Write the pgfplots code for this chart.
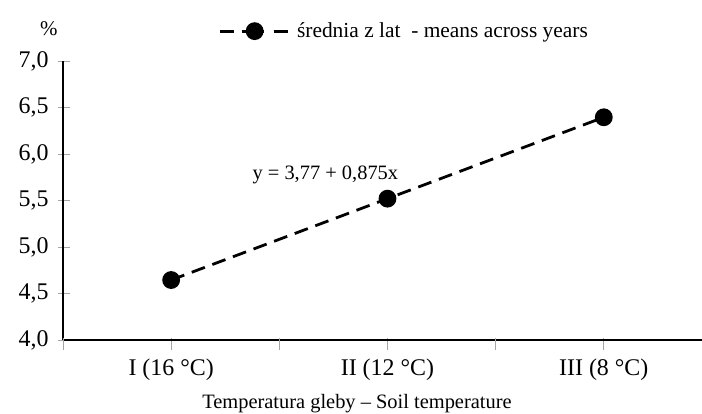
\documentclass[border=0pt]{standalone}
\usepackage{fontspec}
\setmainfont{Liberation Serif}
\usepackage{pgfplots}
\pgfplotsset{compat=1.18}
\begin{document}
\begin{tikzpicture}
\useasboundingbox (0,0) rectangle (702bp,414bp);
\begin{axis}[
  at={(63bp,74bp)}, anchor=south west,
  width=639bp, height=279bp, scale only axis,
  xmin=-0.5, xmax=2.454, ymin=4, ymax=7,
  axis x line=bottom, axis y line=left,
  axis line style={-, black, line width=1.1pt},
  ytick={4,4.5,5,5.5,6,6.5,7},
  yticklabels={{4,0},{4,5},{5,0},{5,5},{6,0},{6,5},{7,0}},
  xtick={0,1,2},
  xticklabels={I (16 °C), II (12 °C), III (8 °C)},
  extra x ticks={-0.5,0.5,1.5},
  extra x tick labels={},
  tick align=center,
  major tick length=12bp,
  x tick style={gray!70, line width=0.9pt, yshift=-4bp},
  y tick style={gray!70, line width=0.9pt, xshift=1bp},
  every tick label/.style={font=\fontsize{24}{28}\selectfont},
  xticklabel style={yshift=-9bp},
  yticklabel style={xshift=-5bp},
  xlabel={Temperatura gleby -- Soil temperature},
  xlabel style={font=\fontsize{20.5}{24}\selectfont, at={(axis description cs:0.46,0)}, anchor=center, yshift=-64bp},
  ylabel={\%},
  ylabel style={font=\fontsize{21}{24}\selectfont, rotate=-90, at={(axis description cs:-0.022,1.115)}, anchor=center},
  legend style={draw=none, fill=none, font=\fontsize{21.5}{24}\selectfont, at={(axis description cs:0.243,1.107)}, anchor=west, inner sep=0pt, outer sep=0pt},
  legend cell align=left,
  legend image code/.code={
    \draw[#1, dash pattern=on 14bp off 8bp on 22bp off 10bp on 14bp, mark repeat=2, mark phase=2] plot coordinates {(0bp,0bp) (35bp,0bp) (68bp,0bp)};
  },
]
\addplot[black, line width=2.8pt, dash pattern=on 14bp off 8bp, mark=*, mark size=7.5bp, mark options={solid, fill=black}]
  coordinates {(0,4.645) (1,5.52) (2,6.395)};
\addlegendentry{\hspace{6bp}średnia z lat\ \ - means across years}
\node[font=\fontsize{20.5}{24}\selectfont] at (axis cs:0.713,5.775) {y = 3,77 + 0,875x};
\end{axis}
\end{tikzpicture}
\end{document}
